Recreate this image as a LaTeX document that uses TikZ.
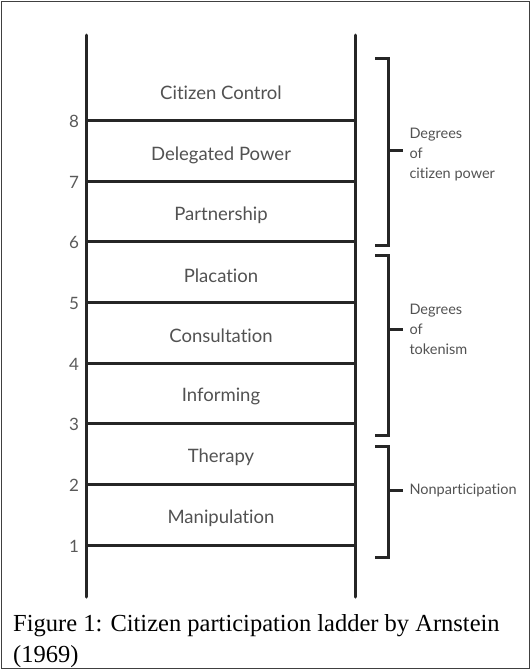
\documentclass[tikz,border=0pt]{standalone}
\usepackage{fontspec}
\setmainfont{Lato}[Ligatures=NoCommon]
\newfontfamily\capfont{Liberation Serif}

\tikzset{
  rail/.style={line width=3pt, black!85, line cap=round},
  rung/.style={line width=3pt, black!85},
  brace/.style={line width=3pt, black!85},
  rungtext/.style={font=\fontsize{18.5}{20}\selectfont, text=black!68},
  rungnum/.style={font=\fontsize{17}{18}\selectfont, text=black!65},
  bracetext/.style={font=\fontsize{14.5}{20}\selectfont, text=black!68, align=left, anchor=west},
}

\begin{document}
\begin{tikzpicture}[x=1pt,y=-1pt]
\useasboundingbox (0,0) rectangle (531,670);
\draw[line width=1.4pt, black!75] (1.5,1.5) rectangle (529.5,668.5); % frame

  \coordinate (ltop) at (86,35);
  \coordinate (lbot) at (86,597);
  \coordinate (rtop) at (355,35);
  \coordinate (rbot) at (355,597);
  \draw[rail] (ltop)--(lbot); % left rail
  \draw[rail] (rtop)--(rbot); % right rail

% rungs and numbers
\foreach \n/\y in {1/545,2/484,3/423,4/363,5/302,6/241,7/181,8/120}{
  \draw[rung] (86,\y)--(355,\y);
  \node[rungnum] (n\n) at (74,\y+1) {\n};
}

% rung labels
\foreach \name/\y/\txt in {cc/93/Citizen Control, dp/155/Delegated Power, pa/215/Partnership,
    pl/276/Placation, co/336/Consultation, in/396/Informing, th/457/Therapy, ma/518/Manipulation}
  \node[rungtext] (\name) at (221,\y) {\txt};

% brackets
\draw[brace] (375,58) -| (388,245) -- (375,245);
\draw[brace] (388,150) -- (403,150);
\node[bracetext] (power) at (406,155) {Degrees\\of\\citizen power};

\draw[brace] (375,255) -| (388,435) -- (375,435);
\draw[brace] (388,329) -- (403,329);
\node[bracetext] (token) at (406,329) {Degrees\\of\\tokenism};

\draw[brace] (375,446) -| (388,557) -- (375,557);
\draw[brace] (388,490) -- (403,490);
\node[bracetext] (nonpart) at (406,490) {Nonparticipation};

% caption
\node[anchor=base west, inner sep=0pt, align=left, font=\capfont\fontsize{24.5}{31}\selectfont] (caption) at (13,662)
  {Figure 1: Citizen participation ladder by Arnstein\\(1969)};
\end{tikzpicture}
\end{document}
